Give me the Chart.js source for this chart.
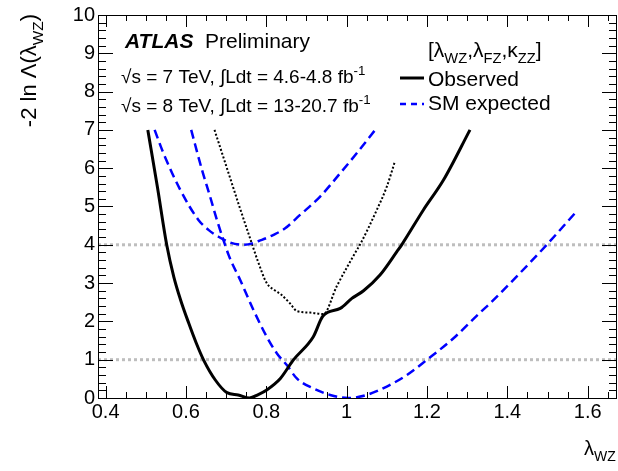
<!DOCTYPE html>
<html>
<head>
  <title>Lambda WZ likelihood scan</title>
  <script src="https://cdn.jsdelivr.net/npm/chart.js"></script>
  <style>
    body { margin: 0; background: #fff; }
    #wrap { width: 618px; height: 471px; }
  </style>
</head>
<body>
  <div id="wrap"><canvas id="scanChart" width="618" height="471"></canvas></div>

  <script>
    // values
    const obsX = [0.505, 0.529, 0.552, 0.570, 0.586, 0.607, 0.625, 0.644, 0.673, 0.702, 0.730, 0.758, 0.780, 0.801, 0.835, 0.867, 0.917, 0.941, 0.984, 1.013, 1.042, 1.083, 1.125, 1.137, 1.191, 1.241, 1.307];
    const obsY = [7.0, 5.5, 4.0, 3.15, 2.58, 1.95, 1.45, 0.99, 0.47, 0.14, 0.08, 0.0, 0.09, 0.21, 0.51, 0.99, 1.60, 2.14, 2.34, 2.60, 2.80, 3.21, 3.82, 4.0, 4.91, 5.69, 7.0];

    const dotX = [0.671, 0.702, 0.733, 0.765, 0.778, 0.801, 0.820, 0.837, 0.859, 0.876, 0.909, 0.942, 0.975, 1.025, 1.033, 1.075, 1.100, 1.120];
    const dotY = [7.0, 6.0, 5.0, 4.0, 3.6, 3.0, 2.82, 2.70, 2.47, 2.27, 2.23, 2.19, 2.91, 3.86, 4.0, 4.91, 5.52, 6.17];

    const smWideX = [0.522, 0.544, 0.586, 0.631, 0.656, 0.681, 0.710, 0.745, 0.789, 0.818, 0.847, 0.884, 0.934, 0.984, 1.025, 1.071];
    const smWideY = [7.0, 6.39, 5.43, 4.65, 4.39, 4.21, 4.06, 4.0, 4.13, 4.26, 4.43, 4.78, 5.26, 5.87, 6.39, 7.0];

    const smX = [0.613, 0.640, 0.660, 0.677, 0.693, 0.707, 0.735, 0.768, 0.801, 0.826, 0.851, 0.876, 0.917, 0.959, 1.004, 1.050, 1.100, 1.150, 1.199, 1.266, 1.330, 1.357, 1.423, 1.498, 1.568];
    const smY = [7.0, 5.95, 5.26, 4.65, 4.13, 3.71, 3.08, 2.30, 1.60, 1.17, 0.86, 0.51, 0.25, 0.08, 0.0, 0.08, 0.30, 0.60, 0.99, 1.56, 2.21, 2.47, 3.17, 4.0, 4.82];

    const refLevels = [1, 4];

    const xTickVals = [0.4, 0.6, 0.8, 1.0, 1.2, 1.4, 1.6];
    const xTickLabels = ['0.4', '0.6', '0.8', '1', '1.2', '1.4', '1.6'];
    const yTickVals = [0, 1, 2, 3, 4, 5, 6, 7, 8, 9, 10];
    const xMin = 0.381, xMax = 1.673;

    const FONT = '"Liberation Sans", Arial, Helvetica, sans-serif';

    function pts(xs, ys) {
      return xs.map((x, i) => ({ x: x, y: ys[i] }));
    }

    // draw a run of text pieces, some of them sub/superscripts
    function drawRich(ctx, x, y, parts, size) {
      let cx = x;
      parts.forEach(p => {
        let s = size, dy = 0;
        if (p.sub) { s = size * 0.7; dy = size * 0.3; }
        if (p.sup) { s = size * 0.7; dy = -size * 0.42; }
        ctx.font = (p.font || '') + ' ' + s + 'px ' + FONT;
        ctx.fillText(p.t, cx, y + dy);
        cx += ctx.measureText(p.t).width;
      });
      return cx - x;
    }
    function richWidth(ctx, parts, size) {
      let w = 0;
      parts.forEach(p => {
        const s = (p.sub || p.sup) ? size * 0.7 : size;
        ctx.font = (p.font || '') + ' ' + s + 'px ' + FONT;
        w += ctx.measureText(p.t).width;
      });
      return w;
    }

    const rootStyle = {
      id: 'rootStyle',
      afterDatasetsDraw(chart) {
        const ctx = chart.ctx;
        const a = chart.chartArea;
        const xs = chart.scales.x, ys = chart.scales.y;
        ctx.save();
        ctx.strokeStyle = '#000';
        ctx.lineWidth = 1;
        ctx.beginPath();
        // x ticks, bottom and top, pointing inward
        for (let v = 0.4; v <= xMax + 1e-9; v += 0.05) {
          const px = Math.round(xs.getPixelForValue(v)) + 0.5;
          const major = Math.abs(v * 5 - Math.round(v * 5)) < 1e-6;
          const len = major ? 12 : 6;
          ctx.moveTo(px, a.bottom); ctx.lineTo(px, a.bottom - len);
          ctx.moveTo(px, a.top); ctx.lineTo(px, a.top + len);
        }
        // y ticks, left and right
        for (let v = 0; v <= 10 + 1e-9; v += 0.2) {
          const py = Math.round(ys.getPixelForValue(v)) + 0.5;
          const major = Math.abs(v - Math.round(v)) < 1e-6;
          const len = major ? 15 : 8;
          ctx.moveTo(a.left, py); ctx.lineTo(a.left + len, py);
          ctx.moveTo(a.right, py); ctx.lineTo(a.right - len, py);
        }
        ctx.stroke();
        ctx.strokeRect(a.left + 0.5, a.top + 0.5, a.right - a.left - 1, a.bottom - a.top);
        ctx.restore();
      },
      afterDraw(chart) {
        const ctx = chart.ctx;
        ctx.save();
        ctx.fillStyle = '#000';
        ctx.textBaseline = 'alphabetic';
        ctx.textAlign = 'left';

        // labels in the top left
        drawRich(ctx, 125, 48, [{ t: 'ATLAS', font: 'italic bold' }], 21);
        drawRich(ctx, 205, 48, [{ t: 'Preliminary' }], 21);
        drawRich(ctx, 121, 83, [{ t: '\u221As = 7 TeV, \u222BLdt = 4.6-4.8 fb' }, { t: '-1', sup: true }], 19);
        drawRich(ctx, 121, 112, [{ t: '\u221As = 8 TeV, \u222BLdt = 13-20.7 fb' }, { t: '-1', sup: true }], 19);

        // legend
        drawRich(ctx, 428, 57, [{ t: '[\u03BB' }, { t: 'WZ', sub: true }, { t: ',\u03BB' }, { t: 'FZ', sub: true },
          { t: ',\u03BA' }, { t: 'ZZ', sub: true }, { t: ']' }], 21);
        drawRich(ctx, 428, 86, [{ t: 'Observed' }], 21);
        drawRich(ctx, 428, 110, [{ t: 'SM expected' }], 21);
        ctx.lineWidth = 3;
        ctx.strokeStyle = '#000';
        ctx.beginPath(); ctx.moveTo(400, 78); ctx.lineTo(424, 78); ctx.stroke();
        ctx.lineWidth = 2.5;
        ctx.strokeStyle = '#0000ff';
        ctx.setLineDash([6, 5]);
        ctx.beginPath(); ctx.moveTo(400, 104); ctx.lineTo(424, 104); ctx.stroke();
        ctx.setLineDash([]);

        // x axis title
        drawRich(ctx, 584, 455, [{ t: '\u03BB' }, { t: 'WZ', sub: true }], 20);

        // y axis title, rotated and aligned to the top of the frame
        const yParts = [{ t: '-2 ln \u039B(\u03BB' }, { t: 'WZ', sub: true }, { t: ')' }];
        const w = richWidth(ctx, yParts, 22);
        ctx.translate(36, 14);
        ctx.rotate(-Math.PI / 2);
        drawRich(ctx, -w, 0, yParts, 22);
        ctx.restore();
      }
    };

    const ctx = document.getElementById('scanChart').getContext('2d');
    new Chart(ctx, {
      type: 'line',
      data: {
        datasets: [
          {
            label: 'Observed',
            data: pts(obsX, obsY),
            borderColor: '#000',
            borderWidth: 3,
            cubicInterpolationMode: 'monotone'
          },
          {
            label: 'SM expected',
            data: pts(smX, smY),
            borderColor: '#0000ff',
            borderWidth: 2.5,
            borderDash: [9, 5],
            cubicInterpolationMode: 'monotone'
          },
          {
            label: 'SM expected (other)',
            data: pts(smWideX, smWideY),
            borderColor: '#0000ff',
            borderWidth: 2.5,
            borderDash: [9, 5],
            cubicInterpolationMode: 'monotone'
          },
          {
            label: 'dotted',
            data: pts(dotX, dotY),
            borderColor: '#000',
            borderWidth: 2,
            borderDash: [2, 2],
            cubicInterpolationMode: 'monotone'
          },
          ...refLevels.map(l => ({
            label: 'level ' + l,
            data: [{ x: xMin, y: l }, { x: xMax, y: l }],
            borderColor: '#bebebe',
            borderWidth: 3,
            borderDash: [3, 3]
          }))
        ]
      },
      options: {
        responsive: false,
        animation: false,
        events: [],
        elements: { point: { radius: 0 } },
        layout: { padding: { top: 15, right: 1, left: 0, bottom: 0 } },
        plugins: {
          legend: { display: false },
          tooltip: { enabled: false }
        },
        scales: {
          x: {
            type: 'linear',
            min: xMin,
            max: xMax,
            afterBuildTicks: s => { s.ticks = xTickVals.map(v => ({ value: v })); },
            afterFit: s => { s.height = 73; },
            grid: { display: false, drawTicks: false },
            border: { display: false },
            ticks: {
              padding: 2,
              color: '#000',
              font: { family: FONT, size: 20 },
              callback: (v) => xTickLabels[xTickVals.findIndex(t => Math.abs(t - v) < 1e-6)]
            }
          },
          y: {
            min: 0,
            max: 10,
            afterBuildTicks: s => { s.ticks = yTickVals.map(v => ({ value: v })); },
            afterFit: s => { s.width = 98; },
            grid: { display: false, drawTicks: false },
            border: { display: false },
            ticks: {
              padding: 3,
              color: '#000',
              font: { family: FONT, size: 20 }
            }
          }
        }
      },
      plugins: [rootStyle]
    });
  </script>
</body>
</html>
